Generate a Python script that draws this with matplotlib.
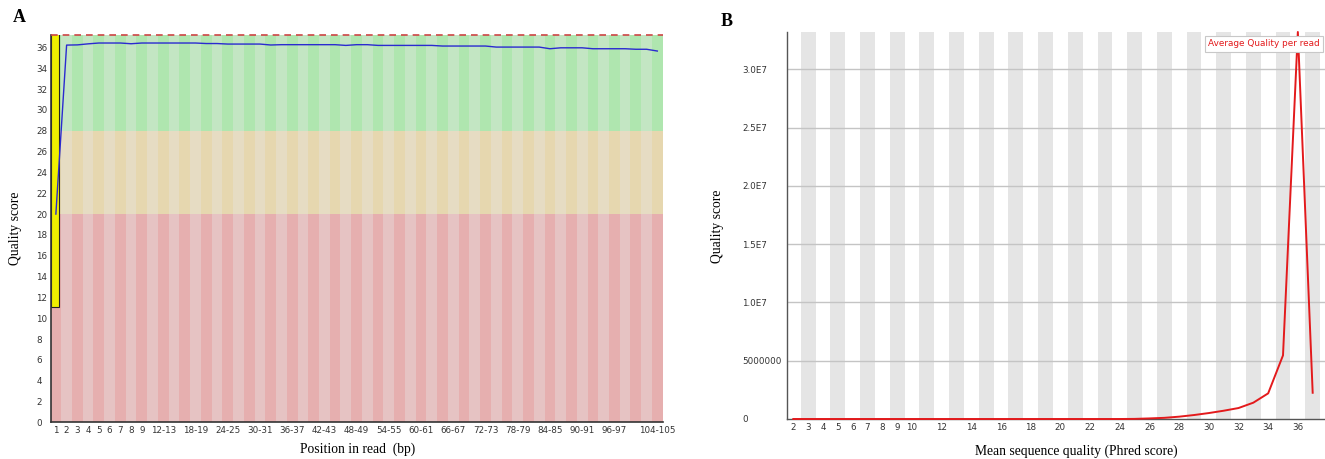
import matplotlib
matplotlib.use('Agg')
import matplotlib.pyplot as plt
from matplotlib.patches import Rectangle
import numpy as np

# --- panel A: per base sequence quality ---
positions = [str(p) for p in range(1, 10)] + ['%d-%d' % (p, p + 1) for p in range(10, 106, 2)]
shown_labels = ['1', '2', '3', '4', '5', '6', '7', '8', '9', '12-13', '18-19', '24-25',
                '30-31', '36-37', '42-43', '48-49', '54-55', '60-61', '66-67', '72-73',
                '78-79', '84-85', '90-91', '96-97', '104-105']
mean_quality = [20.0, 36.23, 36.25, 36.35, 36.43, 36.43, 36.43, 36.36, 36.43, 36.43,
                36.43, 36.43, 36.43, 36.43, 36.38, 36.38, 36.33, 36.33, 36.33, 36.33,
                36.24, 36.27, 36.27, 36.27, 36.27, 36.27, 36.27, 36.20, 36.27, 36.27,
                36.20, 36.20, 36.20, 36.20, 36.20, 36.20, 36.14, 36.14, 36.14, 36.14,
                36.14, 36.04, 36.04, 36.04, 36.04, 36.04, 35.88, 35.97, 35.97, 35.97,
                35.88, 35.88, 35.88, 35.88, 35.83, 35.83, 35.66]
box_first = (11.1, 37.2)   # lower / upper quartile of position 1
zones = [(0, 20, '#e6afaf', '#e6c3c3'),
         (20, 28, '#e6d7af', '#e6dcc3'),
         (28, 37.2, '#afe6af', '#c3e6c3')]

# --- panel B: per sequence quality scores ---
phred = list(range(2, 38))
read_counts = [0, 0, 0, 0, 0, 0, 0, 0, 0, 0, 0, 0, 0, 0, 0, 0, 0, 0, 0, 0, 0, 0, 0,
               1.0e4, 5.0e4, 1.0e5, 2.0e5, 3.4e5, 5.1e5, 7.1e5, 9.4e5, 1.4e6, 2.2e6,
               5.46e6, 3.32e7, 2.25e6]
b_xticks = [2, 3, 4, 5, 6, 7, 8, 9, 10, 12, 14, 16, 18, 20, 22, 24, 26, 28, 30, 32, 34, 36]
b_yticks = [0, 5e6, 1e7, 1.5e7, 2e7, 2.5e7, 3e7]
b_ylabels = ['0', '5000000', '1.0E7', '1.5E7', '2.0E7', '2.5E7', '3.0E7']

W, H = 1325, 459
fig = plt.figure(figsize=(W / 100, H / 100), dpi=100, facecolor='w')

def px(x0, y0, x1, y1):
    return [x0 / W, 1 - y1 / H, (x1 - x0) / W, (y1 - y0) / H]

tick_font = {'family': 'DejaVu Sans', 'size': 6.3, 'color': '#333333'}
serif = 'Liberation Serif'

# ---------------- A ----------------
ax = fig.add_axes(px(50.5, 35, 662.7, 422.3))
n = len(positions)
for lo, hi, dark, light in zones:
    for i in range(n):
        ax.add_patch(Rectangle((i - 0.5, lo), 1, hi - lo, color=dark if i % 2 == 0 else light,
                               lw=0, zorder=0))
ax.axhline(37.2, color='#cc4444', lw=1.2, ls=(0, (4, 3)), zorder=3, clip_on=False)
ax.add_patch(Rectangle((-0.48, box_first[0]), 0.8, box_first[1] - box_first[0] + 1,
                       facecolor='#f0f000', edgecolor='#222222', lw=0.8, zorder=2))
ax.plot(range(n), mean_quality, color='#2a2ad0', lw=1.0, zorder=4)
ax.set_xlim(-0.5, n - 0.5)
ax.set_ylim(0, 37.2)
ax.set_xticks([positions.index(s) for s in shown_labels])
ax.set_xticklabels(shown_labels, fontdict=tick_font)
ax.set_yticks(range(0, 37, 2))
ax.set_yticklabels([str(v) for v in range(0, 37, 2)], fontdict=tick_font, ha='left')
ax.tick_params(axis='x', length=0, pad=2.5)
ax.tick_params(axis='y', length=0, pad=10.2)
for s in ['top', 'right']:
    ax.spines[s].set_visible(False)
for s in ['left', 'bottom']:
    ax.spines[s].set_color('#333333')
    ax.spines[s].set_linewidth(1.2)

# ---------------- B ----------------
bx = fig.add_axes(px(786.7, 32, 1325, 419))
for q in phred:
    if q % 2 == 1:
        bx.axvspan(q - 0.5, q + 0.5, color='#e5e5e5', lw=0, zorder=0)
for t in b_yticks[1:]:
    bx.axhline(t, color='#c4c4c4', lw=1.0, zorder=1)
bx.plot(phred, read_counts, color='#e31a1c', lw=1.4, zorder=3, clip_on=False)
bx.set_xlim(1.555, 37.83)
bx.set_ylim(0, 3.32e7)
bx.set_xticks(b_xticks)
bx.set_xticklabels([str(v) for v in b_xticks], fontdict=tick_font)
bx.set_yticks(b_yticks)
bx.set_yticklabels(b_ylabels, fontdict=tick_font, ha='left')
bx.tick_params(axis='x', length=0, pad=3)
bx.tick_params(axis='y', length=0, pad=32.2)
for s in ['top', 'right']:
    bx.spines[s].set_visible(False)
for s in ['left', 'bottom']:
    bx.spines[s].set_color('#555555')
    bx.spines[s].set_linewidth(1.0)
bx.text(0.7835, 0.969, 'Average Quality per read', transform=bx.transAxes,
        fontsize=6.4, color='#e31a1c', ha='left', va='center', zorder=5,
        bbox=dict(boxstyle='square,pad=0.35', fc='white', ec='#c8c8c8', lw=0.8))

# ---------------- labels ----------------
def ftext(x, y, s, **kw):
    fig.text(x / W, 1 - y / H, s, ha='center', va='center', **kw)

ftext(19, 18, 'A', family=serif, weight='bold', size=13)
ftext(726.5, 21, 'B', family=serif, weight='bold', size=13)
ftext(16, 228, 'Quality score', family=serif, size=9.8, rotation=90)
ftext(718, 226, 'Quality score', family=serif, size=9.8, rotation=90)
ftext(358, 449, 'Position in read  (bp)', family=serif, size=9.8)
ftext(1076, 451, 'Mean sequence quality (Phred score)', family=serif, size=9.8)

fig.savefig('out.png', dpi=100)
